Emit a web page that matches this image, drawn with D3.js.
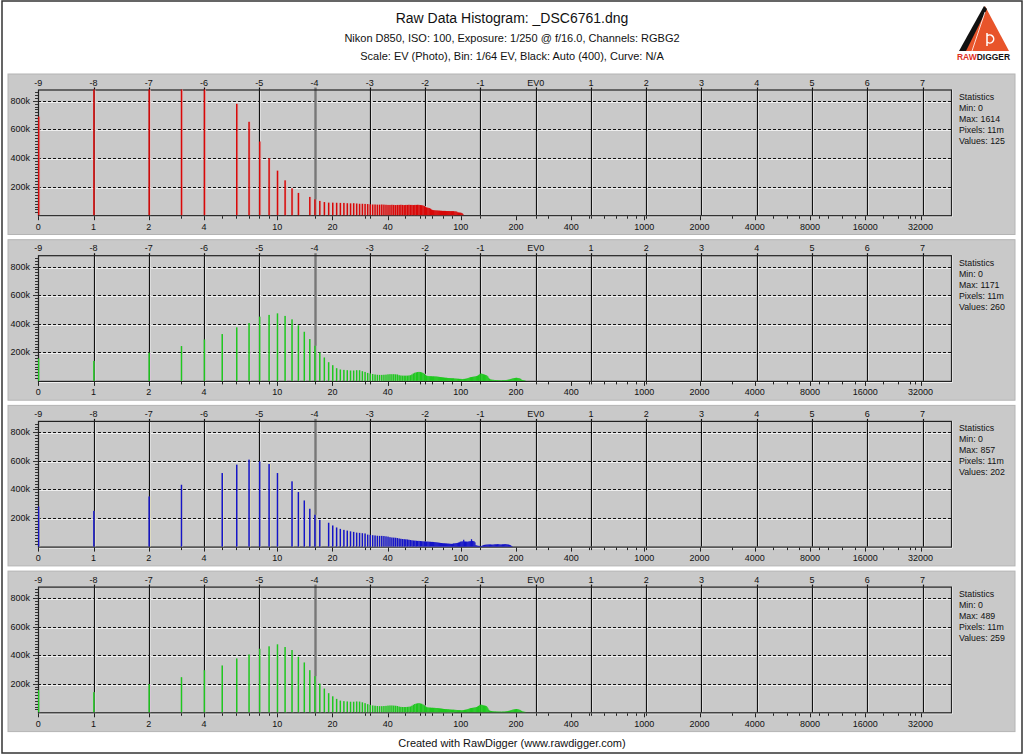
<!DOCTYPE html>
<html><head><meta charset="utf-8">
<script src="https://cdn.jsdelivr.net/npm/d3@7"></script>
<style>
body{margin:0;background:#fff}
svg{display:block}
text{font-family:"Liberation Sans",Arial,sans-serif;fill:#111}
</style>
</head><body>
<svg id="c" width="1024" height="754"></svg>
<script>
// ---------- data ----------
const titleText = "Raw Data Histogram: _DSC6761.dng";
const subtitle1 = "Nikon D850, ISO: 100, Exposure: 1/250 @ f/16.0, Channels: RGBG2";
const subtitle2 = "Scale: EV (Photo), Bin: 1/64 EV, Black: Auto (400), Curve: N/A";
const footerText = "Created with RawDigger (www.rawdigger.com)";

const evTicks = [-9,-8,-7,-6,-5,-4,-3,-2,-1,0,1,2,3,4,5,6,7];
const evLabels = ["-9","-8","-7","-6","-5","-4","-3","-2","-1","EV0","1","2","3","4","5","6","7"];
const valueTicks = [0,1,2,4,10,20,40,100,200,400,1000,2000,4000,8000,16000,32000];
const countTicks = [200000,400000,600000,800000];
const countLabels = ["200k","400k","600k","800k"];
const countMax = 880000;

const channels = ["R","G","B","G2"];
const statMin = [0,0,0,0];
const statMax = [1614,1171,857,489];
const statPixels = ["11m","11m","11m","11m"];
const statValues = [125,260,202,259];

// counts (thousands) for raw values 0..90
const redLow = [690,950,950,950,950,0,780,654,516,399,
 312,244,188,156,0,128,111,100,92,88,
 88,87,86,86,84,83,84,82,80,80,
 79,78,76,75,75,74,74,75,74,73,
 72,72,73,72,71,72,72,73,72,71,
 72,72,73,72,72,71,72,72,73,72,
 71,70,68,64,58,54,52,50,46,40,
 36,35,34,33,33,32,32,31,31,30,
 30,30,30,29,29,29,29,28,28,28,
 28];
// counts (thousands) for 1/64 EV bins starting at EV -1.5
const redHigh = [28,27,27,26,25,20,19,18,18,17,15,9];

const greenLow = [157,140,197,244,290,328,375,405,450,462,
 473,455,431,389,344,293,246,199,164,131,
 110,89,80,77,75,73,73,75,75,68,
 63,56,52,48,45,43,42,42,43,44,
 46,47,47,47,46,45,40,38,37,37,
 37,37,38,40,45,52,57,60,62,63,
 62,60,56,50,42,36,34,33,33,33,
 32,32,31,31,30,29,28,27,26,25,
 24,23,22,22,21,20,20,19,19,18,
 18];
const greenHigh = [18,17,17,16,16,15,15,14,14,14,
 13,13,14,14,15,16,18,20,22,24,
 26,27,28,29,30,31,32,34,36,40,
 44,48,52,50,48,46,44,42,40,36,
 30,20,14,10,9,8,8,7,6,6,
 5,5,5,5,5,4,4,5,5,5,
 6,6,7,8,9,10,12,14,16,18,
 19,20,21,22,21,20,19,17,14,8,
 6,5,4,3];

const blueLow = [281,250,351,433,0,515,574,609,597,578,
 515,0,457,382,323,265,223,187,0,167,
 148,134,124,117,112,107,103,98,96,94,
 92,84,82,80,78,76,75,75,74,72,
 70,66,64,63,62,60,57,55,53,52,
 51,50,48,46,44,43,42,41,40,40,
 39,38,37,36,36,35,35,34,34,33,
 33,32,31,30,29,28,27,26,25,24,
 23,23,22,22,21,21,20,20,19,19,
 19];
const blueHigh = [22,22,23,24,25,26,28,30,34,35,
 36,36,48,36,35,35,34,35,36,37,
 38,52,40,38,37,30,10,8,6,5,
 5,4,4,5,8,10,12,13,14,14,
 15,15,15,15,14,14,14,15,16,16,
 16,17,17,16,15,15,15,16,16,17,
 18,17,16,15,14,12,10,6,3];

const green2Low = [155,141,197,246,295,328,377,405,445,462,
 476,457,436,389,349,295,253,201,166,134,
 112,94,82,78,76,74,74,76,75,70,
 64,57,52,48,46,44,43,43,44,45,
 47,48,48,47,46,44,40,38,37,37,
 37,38,39,41,46,53,58,61,63,64,
 62,60,55,49,42,36,34,33,33,32,
 32,31,31,30,30,29,28,27,26,25,
 24,23,22,22,21,21,20,19,19,18,
 18];
const green2High = [18,18,17,17,16,16,15,15,15,14,
 14,15,16,17,18,19,21,23,25,27,
 29,30,31,32,33,34,35,37,40,44,
 48,52,54,52,50,48,47,46,44,38,
 28,18,12,10,9,8,7,7,6,6,
 5,5,5,5,5,5,4,5,5,5,
 6,7,8,9,10,11,13,15,17,19,
 20,21,22,23,22,21,19,17,14,9,
 6,5,4,3];

const lowSeries = [redLow, greenLow, blueLow, green2Low];
const highSeries = [redHigh, greenHigh, blueHigh, green2High];
const mainColors = ["#d80808","#1ec81e","#1414c8","#1ec81e"];
const tintColors = ["#dcb4b4","#d8bed8","#dedab4","#d8bed8"];

// ---------- layout ----------
const svg = d3.select("#c");
svg.append("rect").attr("x",2).attr("y",1).attr("width",1020).attr("height",752)
  .attr("fill","#fff").attr("stroke","#333").attr("stroke-width",1.5);

svg.append("text").attr("x",512).attr("y",23).attr("text-anchor","middle")
  .attr("font-size",14).text(titleText);
svg.append("text").attr("x",512).attr("y",42).attr("text-anchor","middle")
  .attr("font-size",11).text(subtitle1);
svg.append("text").attr("x",512).attr("y",60).attr("text-anchor","middle")
  .attr("font-size",11).text(subtitle2);
svg.append("text").attr("x",512).attr("y",747).attr("text-anchor","middle")
  .attr("font-size",11).text(footerText);

// logo
const logo = svg.append("g");
logo.append("path").attr("d","M985,6 L1009,51 L963,51 Z").attr("fill","#e8542a");
logo.append("path").attr("d","M984,6 L987,9 L966,51 L959,51 Z").attr("fill","#111");
logo.append("path").attr("d","M985,12 L972,51").attr("stroke","#fff").attr("stroke-width",0.8);
logo.append("path").attr("d","M987,46 L987,33 M987,36 a4,4 0 1,1 0.1,6").attr("stroke","#fff")
  .attr("stroke-width",1.5).attr("fill","none");
const lt = logo.append("text").attr("x",957).attr("y",60).attr("font-size",8.5)
  .attr("font-weight","bold").attr("textLength",53).attr("lengthAdjust","spacingAndGlyphs");
lt.append("tspan").style("fill","#e0301e").text("RAW");
lt.append("tspan").style("fill","#111").text("DIGGER");

const xV = d3.scaleLog().base(2).domain([0.5, 32768]).range([38.3, 922.5]);
const xEV = d3.scaleLinear().domain([-9, 7]).range([38.3, 922.5]);
const vx = v => xV(v === 0 ? 0.5 : v);
const plotL = 38, plotR = 951;

// minor ticks along value axis
const minorTicks = [];
for (let k = 0; k <= 4; k++) {
  for (let m = 1; m <= 9; m++) {
    const v = m * Math.pow(10, k);
    if (v <= 32000 && !valueTicks.includes(v)) minorTicks.push(v);
  }
}
[3,5,6,7,8,16,32,64,128,256,512,1024,12000,14000,24000,28000].forEach(v=>{ if(!minorTicks.includes(v) && !valueTicks.includes(v)) minorTicks.push(v); });

const defs = svg.append("defs");

channels.forEach((ch, i) => {
  const y0 = 74 + i * 165.7;
  const top = y0 + 15.5, bottom = y0 + 141.2;
  const g = svg.append("g");
  g.append("rect").attr("x",8).attr("y",y0).attr("width",1007).attr("height",160.5)
    .attr("fill","#c9c9c9").attr("stroke","#b4b4b4").attr("stroke-width",1);

  const y = d3.scaleLinear().domain([0, countMax]).range([bottom, top]);

  defs.append("clipPath").attr("id","clip"+i).append("rect")
    .attr("x",plotL).attr("y",top).attr("width",plotR-plotL).attr("height",bottom-top+0.5);

  // horizontal dashed grid
  countTicks.forEach(c => {
    const yy = Math.round(y(c)) + 0.5;
    g.append("line").attr("x1",plotL).attr("x2",plotR).attr("y1",yy+1).attr("y2",yy+1)
      .attr("stroke","#eeeeee").attr("stroke-width",1);
    g.append("line").attr("x1",plotL).attr("x2",plotR).attr("y1",yy).attr("y2",yy)
      .attr("stroke","#111").attr("stroke-width",1).attr("stroke-dasharray","3,2");
  });

  // EV vertical lines
  evTicks.forEach(ev => {
    if (ev === -9) return;
    const xx = Math.round(xEV(ev)) + 0.5;
    if (ev === -4) {
      g.append("line").attr("x1",xx).attr("x2",xx).attr("y1",top-2).attr("y2",bottom)
        .attr("stroke","#777").attr("stroke-width",2.4);
    } else {
      g.append("line").attr("x1",xx+1).attr("x2",xx+1).attr("y1",top).attr("y2",bottom)
        .attr("stroke","#f4f4f4").attr("stroke-width",1);
      g.append("line").attr("x1",xx).attr("x2",xx).attr("y1",top-2).attr("y2",bottom)
        .attr("stroke","#111").attr("stroke-width",1.2);
    }
  });

  // plot frame
  g.append("line").attr("x1",plotL).attr("x2",plotR+1).attr("y1",bottom+1.5).attr("y2",bottom+1.5).attr("stroke","#f4f4f4");
  g.append("line").attr("x1",plotR+1.5).attr("x2",plotR+1.5).attr("y1",top).attr("y2",bottom+1.5).attr("stroke","#f4f4f4");
  g.append("rect").attr("x",plotL+0.5).attr("y",top+0.5).attr("width",plotR-plotL).attr("height",bottom-top)
    .attr("fill","none").attr("stroke","#222").attr("stroke-width",1.2);

  // bars
  const bars = g.append("g").attr("clip-path","url(#clip"+i+")");
  const hClamp = c => Math.min(c, countMax * 1.02);
  const low = lowSeries[i].map((c, v) => ({v, c: c * 1000})).filter(d => d.c > 0);
  bars.selectAll("rect.tint").data(low).join("rect").attr("class","tint")
    .attr("x", d => vx(d.v) + 1.0).attr("width", 0.9)
    .attr("y", d => y(hClamp(d.c))).attr("height", d => bottom - y(hClamp(d.c)))
    .attr("fill", tintColors[i]);
  bars.selectAll("rect.main").data(low).join("rect").attr("class","main")
    .attr("x", d => vx(d.v) - 0.4).attr("width", 1.5)
    .attr("y", d => y(hClamp(d.c))).attr("height", d => bottom - y(hClamp(d.c)))
    .attr("fill", mainColors[i]);
  const high = highSeries[i].map((c, k) => ({ev: -1.5 + k / 64, c: c * 1000})).filter(d => d.c > 0);
  bars.selectAll("rect.hi").data(high).join("rect").attr("class","hi")
    .attr("x", d => xEV(d.ev)).attr("width", 1.2)
    .attr("y", d => y(d.c)).attr("height", d => bottom - y(d.c))
    .attr("fill", mainColors[i]);

  // top EV labels
  evTicks.forEach((ev, j) => {
    g.append("text").attr("x",xEV(ev)).attr("y",y0+11.5).attr("text-anchor","middle")
      .attr("font-size",9).text(evLabels[j]);
  });

  // bottom value axis ticks and labels
  minorTicks.forEach(v => {
    const xx = Math.round(vx(v)) + 0.5;
    g.append("line").attr("x1",xx).attr("x2",xx).attr("y1",bottom+1).attr("y2",bottom+3.5).attr("stroke","#222");
  });
  valueTicks.forEach(v => {
    const xx = Math.round(vx(v)) + 0.5;
    g.append("line").attr("x1",xx).attr("x2",xx).attr("y1",bottom+1).attr("y2",bottom+5).attr("stroke","#222");
    g.append("text").attr("x",vx(v)).attr("y",y0+155.7).attr("text-anchor","middle")
      .attr("font-size",9).text(v);
  });

  // left count axis
  for (let c = 20000; c < countMax; c += 20000) {
    const yy = Math.round(y(c)) + 0.5;
    const major = c % 200000 === 0;
    g.append("line").attr("x1",plotL - (major ? 5 : 3)).attr("x2",plotL).attr("y1",yy).attr("y2",yy).attr("stroke","#333");
  }
  countTicks.forEach((c, j) => {
    g.append("text").attr("x",30).attr("y",y(c)+3).attr("text-anchor","end")
      .attr("font-size",9).text(countLabels[j]);
  });

  // statistics
  const lines = ["Statistics", "Min: " + statMin[i], "Max: " + statMax[i],
    "Pixels: " + statPixels[i], "Values: " + statValues[i]];
  lines.forEach((t, j) => {
    g.append("text").attr("x",959).attr("y",y0+26+j*11).attr("font-size",8.8).text(t);
  });
});
</script>
</body></html>
